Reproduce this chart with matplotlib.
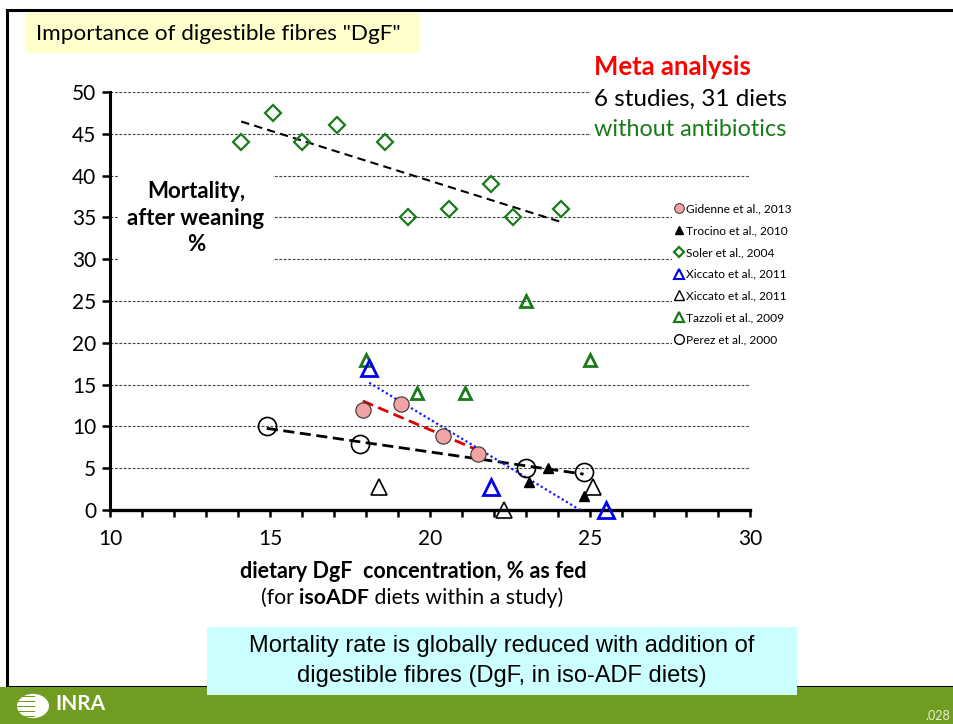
import numpy as np
import matplotlib
matplotlib.use('Agg')
import matplotlib.pyplot as plt
from matplotlib.lines import Line2D
from matplotlib.patches import Rectangle, Circle

plt.rcParams['font.family'] = ['Lato', 'DejaVu Sans']

# data: x = dietary DgF (% as fed), y = mortality (%)
gid_x = [17.9, 19.1, 20.4, 21.5]
gid_y = [12.0, 12.7, 8.8, 6.7]
tro_x = [23.1, 23.7, 24.8]
tro_y = [3.3, 5.0, 1.7]
sol_x = [14.1, 15.1, 16.0, 17.1, 18.6, 19.3, 20.6, 21.9, 22.6, 24.1]
sol_y = [44, 47.5, 44, 46, 44, 35, 36, 39, 35, 36]
xic_b_x = [18.1, 21.9, 25.5]
xic_b_y = [17, 2.8, 0]
xic_k_x = [18.4, 22.3, 25.1]
xic_k_y = [2.8, 0, 2.8]
taz_x = [18.0, 19.6, 21.1, 23.0, 25.0]
taz_y = [18, 14, 14, 25, 18]
per_x = [14.9, 17.8, 23.0, 24.8]
per_y = [10.0, 7.9, 5.0, 4.6]

labels = ['Gidenne et al., 2013', 'Trocino et al., 2010', 'Soler et al., 2004',
          'Xiccato et al., 2011', 'Xiccato et al., 2011', 'Tazzoli et al., 2009',
          'Perez et al., 2000']

GREEN = '#1a7a1a'
PINK = '#f2a3a3'
BAND = '#6f9c21'

W, H = 954, 724
fig = plt.figure(figsize=(W / 100, H / 100), dpi=100)


def fx(px):
    return px / W


def fy(py):
    return 1 - py / H


# slide decoration
fig.patches.append(Rectangle((fx(7), fy(687)), 1.2, fy(10) - fy(687), transform=fig.transFigure,
                             facecolor='none', edgecolor='black', lw=2.2, zorder=0))
fig.patches.append(Rectangle((0, 0), 1, fy(687), transform=fig.transFigure,
                             facecolor=BAND, edgecolor='none', zorder=1))
fig.patches.append(Rectangle((fx(207), fy(695)), fx(797) - fx(207), fy(627) - fy(695),
                             transform=fig.transFigure, facecolor='#ccffff', edgecolor='none', zorder=2))
fig.patches.append(Rectangle((fx(25), fy(53)), fx(419) - fx(25), fy(13) - fy(53),
                             transform=fig.transFigure, facecolor='#ffffcc', edgecolor='none', zorder=2))

fig.text(fx(36), fy(34), 'Importance of digestible fibres "DgF"', fontsize=16.2,
         va='center', ha='left', zorder=3)

fig.text(fx(502), fy(646), 'Mortality rate is globally reduced with addition of', fontsize=17,
         family=['Liberation Sans', 'DejaVu Sans'], ha='center', va='center', zorder=3)
fig.text(fx(502), fy(676), 'digestible fibres (DgF, in iso-ADF diets)', fontsize=17,
         family=['Liberation Sans', 'DejaVu Sans'], ha='center', va='center', zorder=3)

# INRA logo (rough)
fig.patches.append(Circle((fx(33), fy(706)), 16 / W, transform=fig.transFigure,
                          facecolor='white', edgecolor='none', zorder=3))
for yy in [696, 701, 706, 711, 716]:
    fig.patches.append(Rectangle((fx(15), fy(yy + 1)), fx(20), 1.5 / H, transform=fig.transFigure,
                                 facecolor=BAND, edgecolor='none', zorder=4))
fig.text(fx(55), fy(704), 'INRA', fontsize=15, color='white', weight='bold',
         ha='left', va='center', zorder=4)
fig.text(fx(925), fy(716), '.028', fontsize=9, color='#e6eed6', ha='left', va='center', zorder=4)

# chart
ax = fig.add_axes([fx(110), fy(510), fx(750) - fx(110), fy(92) - fy(510)])
ax.set_xlim(10, 30)
ax.set_ylim(0, 50)
ax.set_xticks(range(10, 31, 5))
ax.set_xticks(range(10, 31), minor=True)
ax.set_yticks(range(0, 51, 5))
for s in ['top', 'right']:
    ax.spines[s].set_visible(False)
ax.spines['left'].set_linewidth(2.2)
ax.spines['bottom'].set_linewidth(2.4)
ax.tick_params(axis='y', which='major', length=6, width=1.8, pad=4, labelsize=15)
ax.tick_params(axis='x', which='both', length=5, width=1.8, pad=9, labelsize=15)
ax.yaxis.grid(True, linestyle=(0, (2.5, 1.5)), color='#444444', lw=0.8)
ax.set_axisbelow(True)


def trend(xs, ys, **kw):
    a, b = np.polyfit(xs, ys, 1)
    xx = np.array([min(xs), max(xs)])
    ax.plot(xx, a * xx + b, zorder=3, **kw)


trend(sol_x, sol_y, color='black', lw=1.5, linestyle=(0, (4, 2.5)))
trend(per_x, per_y, color='black', lw=2, linestyle=(0, (4, 2)))
trend(gid_x, gid_y, color='#e00000', lw=2, linestyle=(0, (4, 2)))
trend(xic_b_x, xic_b_y, color='#1a1aff', lw=1.6, linestyle=(0, (1, 1.2)))

kw = dict(linestyle='none', clip_on=False, zorder=4)
ax.plot(sol_x, sol_y, marker='D', ms=8, mfc='none', mec=GREEN, mew=1.6, **kw)
ax.plot(taz_x, taz_y, marker='^', ms=9, mfc='none', mec=GREEN, mew=2, **kw)
ax.plot(xic_b_x, xic_b_y, marker='^', ms=11, mfc='none', mec='#0000ee', mew=2, **kw)
ax.plot(xic_k_x, xic_k_y, marker='^', ms=11, mfc='none', mec='black', mew=1.2, **kw)
ax.plot(per_x, per_y, marker='o', ms=13, mfc='none', mec='black', mew=1.2, **kw)
ax.plot(gid_x, gid_y, marker='o', ms=11, mfc=PINK, mec='#333333', mew=0.8, **kw)
ax.plot(tro_x, tro_y, marker='^', ms=6.5, mfc='black', mec='black', **kw)

fig.text(fx(413), fy(571), 'dietary DgF  concentration, % as fed', fontsize=15.5, weight='bold',
         ha='center', va='center')
t1 = fig.text(fx(261), fy(598), '(for ', fontsize=15.3, ha='left', va='center')
t2 = ax.annotate('isoADF', xy=(1, 0), xycoords=t1, va='bottom', fontsize=15.3, weight='bold')
ax.annotate(' diets within a study)', xy=(1, 0), xycoords=t2, va='bottom', fontsize=15.3)

fig.text(fx(196), fy(218), 'Mortality,\nafter weaning\n%', fontsize=16, weight='bold',
         ha='center', va='center', linespacing=1.35,
         bbox=dict(facecolor='white', edgecolor='none', pad=6), zorder=5)

fig.text(fx(594), fy(67), 'Meta analysis', fontsize=18.5, weight='bold', color='#ff0000',
         ha='left', va='center', zorder=5,
         bbox=dict(facecolor='white', edgecolor='none', pad=2))
fig.text(fx(594), fy(99), '6 studies, 31 diets', fontsize=17.5, color='black',
         ha='left', va='center', zorder=5,
         bbox=dict(facecolor='white', edgecolor='none', pad=2))
fig.text(fx(594), fy(130), 'without antibiotics', fontsize=16.8, color=GREEN,
         ha='left', va='center', zorder=5,
         bbox=dict(facecolor='white', edgecolor='none', pad=2))

handles = [
    Line2D([], [], linestyle='none', marker='o', ms=7, mfc=PINK, mec='#333333', mew=0.7),
    Line2D([], [], linestyle='none', marker='^', ms=6, mfc='black', mec='black'),
    Line2D([], [], linestyle='none', marker='D', ms=5.5, mfc='none', mec=GREEN, mew=1.6),
    Line2D([], [], linestyle='none', marker='^', ms=7, mfc='none', mec='#0000ee', mew=1.5),
    Line2D([], [], linestyle='none', marker='^', ms=7, mfc='none', mec='black', mew=1),
    Line2D([], [], linestyle='none', marker='^', ms=7, mfc='none', mec=GREEN, mew=1.6),
    Line2D([], [], linestyle='none', marker='o', ms=7, mfc='none', mec='black', mew=1),
]
leg = ax.legend(handles, labels, loc='upper left', bbox_to_anchor=(fx(672), fy(200)),
                bbox_transform=fig.transFigure, frameon=True, fancybox=False,
                edgecolor='none', facecolor='white', framealpha=1, fontsize=8.6,
                handlelength=0.6, handletextpad=0.3, labelspacing=0.9,
                borderpad=0.3, borderaxespad=0)
leg.set_zorder(6)

fig.savefig('out.png', dpi=100)
